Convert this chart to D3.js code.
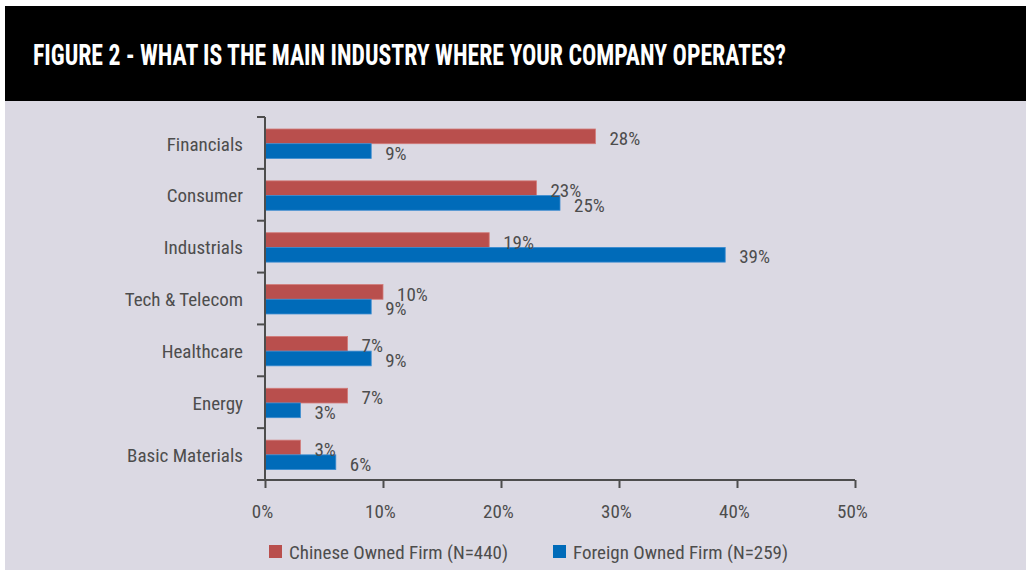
<!DOCTYPE html>
<html>
<head>
<meta charset="utf-8">
<script src="https://cdn.jsdelivr.net/npm/d3@7"></script>
<style>
  body { margin: 0; background: #fff; }
  svg text { font-family: "Liberation Sans Narrow", "Roboto Condensed", "DejaVu Sans Condensed", sans-serif; }
</style>
</head>
<body>
<div id="svg_container"></div>
<script>
// data
var industries = ['Financials', 'Consumer', 'Industrials', 'Tech & Telecom', 'Healthcare', 'Energy', 'Basic Materials'];
var chinese = [28, 23, 19, 10, 7, 7, 3];
var foreign = [9, 25, 39, 9, 9, 3, 6];
var seriesNames = ['Chinese Owned Firm (N=440)', 'Foreign Owned Firm (N=259)'];
var xTicks = [0, 10, 20, 30, 40, 50];
var title = 'FIGURE 2 - WHAT IS THE MAIN INDUSTRY WHERE YOUR COMPANY OPERATES?';

var width = 1026, height = 570;
var colors = ['#b94f4d', '#006bb9'];
var ink = '#4d4d4d';

var svg = d3.select('#svg_container')
  .append('svg')
    .attr('width', width)
    .attr('height', height);

// panel backgrounds
svg.append('rect')
  .attr('x', 5).attr('y', 101)
  .attr('width', width - 5).attr('height', height - 101)
  .attr('fill', '#dbd9e3');

svg.append('rect')
  .attr('x', 5).attr('y', 6)
  .attr('width', width - 5).attr('height', 95)
  .attr('fill', '#000');

svg.append('text')
  .attr('x', 33)
  .attr('y', 65)
  .attr('fill', '#fff')
  .attr('font-size', 30)
  .attr('font-weight', 'bold')
  .attr('textLength', 753)
  .attr('lengthAdjust', 'spacingAndGlyphs')
  .text(title);

var x = d3.scaleLinear()
    .domain([0, 50])
    .range([265, 855]);

var y = d3.scaleBand()
    .domain(industries)
    .range([117, 480]);

var data = industries.map(function(d, i) { return { name: d, values: [chinese[i], foreign[i]] }; });

var barH = 14.7;
var barTop = 12;

var groups = svg.append('g')
  .selectAll('g')
  .data(data)
  .enter().append('g')
    .attr('transform', function(d) { return 'translate(0,' + y(d.name) + ')'; });

groups.selectAll('rect')
  .data(function(d) { return d.values; })
  .enter().append('rect')
    .attr('x', x(0))
    .attr('y', function(d, i) { return barTop + i * barH; })
    .attr('width', function(d) { return x(d) - x(0); })
    .attr('height', barH)
    .attr('fill', function(d, i) { return colors[i]; })
    .attr('stroke', function(d, i) { return i === 0 ? '#d27a78' : '#3a8bd0'; })
    .attr('stroke-width', 0.8);

groups.selectAll('text.value')
  .data(function(d) { return d.values; })
  .enter().append('text')
    .attr('class', 'value')
    .attr('x', function(d) { return x(d) + 14; })
    .attr('y', function(d, i) { return barTop + i * barH + barH / 2 + 2; })
    .attr('dy', '0.35em')
    .attr('fill', ink)
    .attr('font-size', 19)
    .text(function(d) { return d + '%'; });

// y axis
var yAxis = svg.append('g')
  .attr('transform', 'translate(' + x(0) + ',0)');

yAxis.append('line')
  .attr('y1', 117).attr('y2', 480)
  .attr('stroke', ink).attr('stroke-width', 2);

yAxis.selectAll('line.tick')
  .data(industries.concat(['end']))
  .enter().append('line')
    .attr('class', 'tick')
    .attr('x1', -8).attr('x2', 0)
    .attr('y1', function(d, i) { return 117 + i * y.step(); })
    .attr('y2', function(d, i) { return 117 + i * y.step(); })
    .attr('stroke', ink).attr('stroke-width', 2);

yAxis.selectAll('text')
  .data(industries)
  .enter().append('text')
    .attr('x', -22)
    .attr('y', function(d) { return y(d) + y.bandwidth() / 2 + 1; })
    .attr('dy', '0.35em')
    .attr('text-anchor', 'end')
    .attr('fill', ink)
    .attr('font-size', 19)
    .text(function(d) { return d; });

// x axis
var xAxis = svg.append('g')
  .attr('transform', 'translate(0,480)')
  .call(d3.axisBottom(x).tickValues(xTicks).tickSize(8).tickPadding(17).tickFormat(function(d) { return d + '%'; }));

xAxis.select('.domain').attr('stroke', ink).attr('stroke-width', 2).attr('d', 'M265,0H855');
xAxis.selectAll('.tick line').attr('stroke', ink).attr('stroke-width', 2);
xAxis.selectAll('.tick text')
  .attr('fill', ink)
  .attr('font-size', 19)
  .attr('dx', -3)
  .attr('font-family', '"Liberation Sans Narrow", "Roboto Condensed", sans-serif');

// legend
var legendX = [269, 553];
var legend = svg.append('g')
  .selectAll('g')
  .data(seriesNames)
  .enter().append('g')
    .attr('transform', function(d, i) { return 'translate(' + legendX[i] + ',545)'; });

legend.append('rect')
  .attr('width', 13)
  .attr('height', 13)
  .attr('fill', function(d, i) { return colors[i]; });

legend.append('text')
  .attr('x', 20)
  .attr('y', 7)
  .attr('dy', '0.35em')
  .attr('fill', ink)
  .attr('font-size', 19)
  .text(function(d) { return d; });
</script>
</body>
</html>
